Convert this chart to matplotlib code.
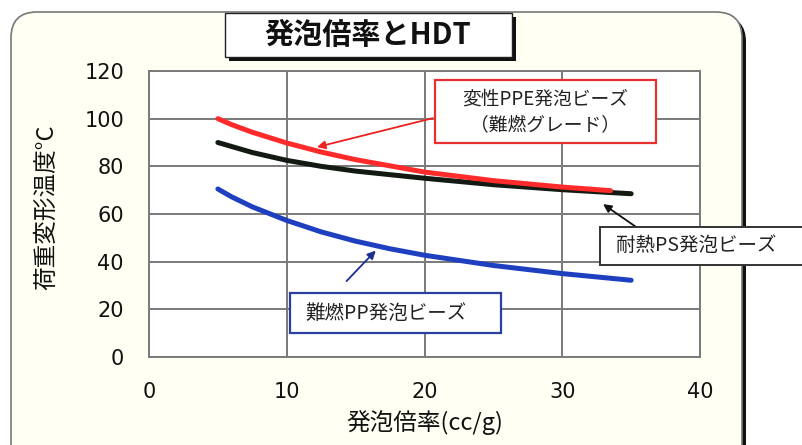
import matplotlib
matplotlib.use("Agg")
import matplotlib.pyplot as plt
from matplotlib.patches import FancyBboxPatch, Rectangle

plt.rcParams['font.family'] = ['Noto Sans CJK JP', 'DejaVu Sans']

# ---- data ----
x_ppe = [5, 6, 7.5, 10, 12.5, 15, 20, 25, 30, 33.5]
y_ppe = [100, 97.5, 94.3, 89.8, 86, 82.8, 77.6, 74, 71.3, 69.8]

x_ps = [5, 7.5, 10, 12.5, 15, 20, 25, 30, 35]
y_ps = [90, 85.8, 82.5, 80, 78, 75, 72.3, 70.2, 68.5]

x_pp = [5, 6, 7.5, 10, 12.5, 15, 17.5, 20, 25, 30, 35]
y_pp = [70.5, 67.2, 63, 57.3, 52.5, 48.6, 45.4, 42.7, 38.4, 35, 32.2]

x_ticks = [0, 10, 20, 30, 40]
y_ticks = [0, 20, 40, 60, 80, 100, 120]

title = "発泡倍率とHDT"
xlabel = "発泡倍率(cc/g)"
ylabel = "荷重変形温度°C"
label_ppe = "変性PPE発泡ビーズ\n（難燃グレード）"
label_ps = "耐熱PS発泡ビーズ"
label_pp = "難燃PP発泡ビーズ"

W, H = 802, 445
fig = plt.figure(figsize=(W / 100, H / 100), dpi=100)
fig.patch.set_facecolor('white')

# background axes in pixel coordinates
bg = fig.add_axes([0, 0, 1, 1], zorder=0)
bg.set_xlim(0, W)
bg.set_ylim(H, 0)
bg.axis('off')

# panel with shadow
bg.add_patch(FancyBboxPatch((15, 16), 731, 460, boxstyle="round,pad=0,rounding_size=26",
                            facecolor='#111111', edgecolor='none'))
bg.add_patch(FancyBboxPatch((11, 12), 731, 460, boxstyle="round,pad=0,rounding_size=26",
                            facecolor='#fffff4', edgecolor='#777777', lw=1.2))

# main axes
ax = fig.add_axes([149 / W, 1 - 357 / H, (700 - 149) / W, (357 - 71) / H], zorder=1)
ax.set_facecolor('white')
ax.plot(x_ppe, y_ppe, color='#ff2b2b', lw=3.6, solid_capstyle='round',
        solid_joinstyle='round', zorder=4)
ax.plot(x_ps, y_ps, color='#121a12', lw=3.6, solid_capstyle='round',
        solid_joinstyle='round', zorder=3)
ax.plot(x_pp, y_pp, color='#1e40c0', lw=3.6, solid_capstyle='round',
        solid_joinstyle='round', zorder=3)
ax.set_xlim(0, 40)
ax.set_ylim(0, 120)
ax.set_xticks(x_ticks)
ax.set_yticks(y_ticks)
ax.set_xticklabels([str(v) for v in x_ticks], family='DejaVu Sans', fontsize=15)
ax.set_yticklabels([str(v) for v in y_ticks], family='DejaVu Sans', fontsize=15)
ax.tick_params(length=0, pad=18, colors='#111111')
ax.grid(True, color='#7a7a7a', lw=1.4)
ax.set_axisbelow(True)
for s in ax.spines.values():
    s.set_color('#7a7a7a')
    s.set_linewidth(1.4)

# arrows
ax.annotate('', xy=(12.0, 87.8), xytext=(20.8, 100.5),
            arrowprops=dict(arrowstyle='-|>', color='#ee2020', lw=1.3, mutation_scale=12),
            zorder=6)
ax.annotate('', xy=(32.8, 64.8), xytext=(35.5, 54.0),
            arrowprops=dict(arrowstyle='-|>', color='#111111', lw=1.3, mutation_scale=12),
            zorder=6, annotation_clip=False)
ax.annotate('', xy=(16.6, 45.5), xytext=(14.2, 31.0),
            arrowprops=dict(arrowstyle='-|>', color='#1a2f90', lw=1.3, mutation_scale=12),
            zorder=6)

# overlay axes for boxes and labels
ov = fig.add_axes([0, 0, 1, 1], zorder=2)
ov.set_xlim(0, W)
ov.set_ylim(H, 0)
ov.axis('off')
ov.patch.set_alpha(0)

# title box with shadow
ov.add_patch(Rectangle((229, 17), 287, 44, facecolor='#111111', edgecolor='none'))
ov.add_patch(Rectangle((225, 13), 287, 44, facecolor='white', edgecolor='#222222', lw=1.0))
ov.text(368, 35, title, ha='center', va='center', fontsize=21, fontweight='bold', color='#111111')

# PPE box
ov.add_patch(Rectangle((435, 80), 221, 63, facecolor='white', edgecolor='#e83030', lw=1.6))
ov.text(545, 112, label_ppe, ha='center', va='center', fontsize=13.5, color='#222222',
        linespacing=1.25)

# PS box
ov.add_patch(Rectangle((600, 227), 215, 38, facecolor='white', edgecolor='#333333', lw=1.4,
                       clip_on=False))
ov.text(696, 245, label_ps, ha='center', va='center', fontsize=14, color='#222222')

# PP box
ov.add_patch(Rectangle((290, 293), 211, 40, facecolor='white', edgecolor='#2a40a0', lw=1.6))
ov.text(386, 313, label_pp, ha='center', va='center', fontsize=14, color='#222222')

# axis labels
ov.text(425, 423, xlabel, ha='center', va='center', fontsize=17, color='#111111')
ov.text(47, 207, ylabel, ha='center', va='center', fontsize=17, rotation=90, color='#111111')

fig.savefig('out.png', dpi=100, facecolor='white')
